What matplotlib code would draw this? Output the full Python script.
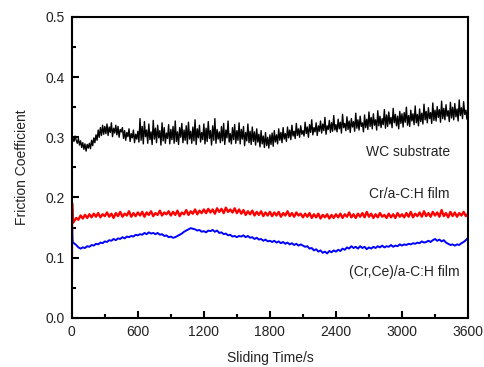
import numpy as np
import matplotlib
matplotlib.use("Agg")
import matplotlib.pyplot as plt
from matplotlib.ticker import MultipleLocator, FormatStrFormatter

plt.rcParams["font.family"] = ["Liberation Sans", "DejaVu Sans"]

# WC substrate: one reading every 10 s
wc_t = np.arange(0, 3601, 10)
wc_mu = [
    0.300,
    0.299, 0.293, 0.302, 0.295, 0.290, 0.298, 0.287, 0.294, 0.283, 0.291, 0.280, 0.289, 0.277, 0.288, 0.282,
    0.290, 0.281, 0.295, 0.286, 0.299, 0.291, 0.304, 0.295, 0.312, 0.300, 0.316, 0.303, 0.320, 0.305, 0.318,
    0.306, 0.322, 0.303, 0.317, 0.308, 0.324, 0.301, 0.315, 0.307, 0.320, 0.304, 0.318, 0.300, 0.313, 0.309,
    0.316, 0.298, 0.311, 0.295, 0.308, 0.301, 0.314, 0.293, 0.306, 0.299, 0.312, 0.291, 0.305, 0.297, 0.310,
    0.292, 0.331, 0.295, 0.318, 0.289, 0.326, 0.301, 0.312, 0.290, 0.322, 0.296, 0.309, 0.288, 0.328, 0.297,
    0.315, 0.291, 0.320, 0.299, 0.311, 0.287, 0.324, 0.294, 0.316, 0.290, 0.307, 0.298, 0.321, 0.289, 0.313,
    0.296, 0.318, 0.290, 0.327, 0.293, 0.309, 0.288, 0.316, 0.300, 0.323, 0.291, 0.312, 0.295, 0.319, 0.289,
    0.325, 0.297, 0.310, 0.290, 0.317, 0.294, 0.329, 0.288, 0.314, 0.299, 0.320, 0.292, 0.308, 0.296, 0.322,
    0.289, 0.315, 0.293, 0.326, 0.298, 0.311, 0.287, 0.319, 0.295, 0.331, 0.290, 0.313, 0.297, 0.309, 0.291,
    0.318, 0.294, 0.323, 0.288, 0.312, 0.299, 0.327, 0.292, 0.306, 0.289, 0.316, 0.296, 0.321, 0.290, 0.311,
    0.295, 0.324, 0.289, 0.313, 0.297, 0.318, 0.286, 0.308, 0.294, 0.322, 0.291, 0.310, 0.288, 0.317, 0.293,
    0.309, 0.287, 0.314, 0.292, 0.305, 0.284, 0.311, 0.289, 0.302, 0.283, 0.308, 0.286, 0.300, 0.282, 0.304,
    0.288, 0.307, 0.285, 0.311, 0.292, 0.304, 0.289, 0.314, 0.295, 0.308, 0.291, 0.316, 0.297, 0.306, 0.293,
    0.317, 0.299, 0.312, 0.296, 0.320, 0.302, 0.310, 0.298, 0.323, 0.303, 0.314, 0.300, 0.319, 0.305, 0.311,
    0.302, 0.325, 0.306, 0.317, 0.300, 0.321, 0.308, 0.329, 0.304, 0.316, 0.309, 0.324, 0.303, 0.319, 0.310,
    0.327, 0.307, 0.322, 0.311, 0.333, 0.305, 0.319, 0.313, 0.328, 0.308, 0.324, 0.310, 0.336, 0.312, 0.321,
    0.309, 0.330, 0.314, 0.325, 0.307, 0.338, 0.316, 0.323, 0.311, 0.334, 0.313, 0.327, 0.308, 0.331, 0.317,
    0.326, 0.310, 0.340, 0.315, 0.329, 0.312, 0.335, 0.318, 0.324, 0.309, 0.337, 0.316, 0.330, 0.313, 0.342,
    0.318, 0.333, 0.314, 0.339, 0.320, 0.329, 0.312, 0.344, 0.319, 0.335, 0.316, 0.331, 0.321, 0.346, 0.315,
    0.337, 0.318, 0.342, 0.322, 0.333, 0.316, 0.348, 0.324, 0.338, 0.319, 0.335, 0.314, 0.343, 0.323, 0.339,
    0.317, 0.341, 0.325, 0.350, 0.320, 0.336, 0.318, 0.345, 0.327, 0.339, 0.321, 0.352, 0.324, 0.338, 0.319,
    0.347, 0.326, 0.340, 0.322, 0.355, 0.329, 0.343, 0.324, 0.349, 0.331, 0.341, 0.323, 0.357, 0.328, 0.345,
    0.327, 0.351, 0.333, 0.346, 0.325, 0.360, 0.331, 0.348, 0.329, 0.354, 0.335, 0.344, 0.326, 0.358, 0.332,
    0.350, 0.329, 0.356, 0.334, 0.347, 0.327, 0.362, 0.336, 0.349, 0.331, 0.359, 0.338, 0.345, 0.330, 0.353,
]

# films: short run-in part, then one reading every 20 s
film_t = np.concatenate([[0, 3, 6, 10], np.arange(20, 3601, 20)])

cr_mu = [
    0.030, 0.190, 0.175, 0.158,
    0.160, 0.166, 0.163, 0.170, 0.165, 0.171, 0.166, 0.172, 0.167, 0.173, 0.168, 0.174, 0.167, 0.172, 0.169,
    0.175, 0.168, 0.173, 0.166, 0.174, 0.169, 0.176, 0.168, 0.173, 0.170, 0.177, 0.168, 0.174, 0.169, 0.175,
    0.170, 0.176, 0.168, 0.175, 0.171, 0.177, 0.169, 0.174, 0.171, 0.178, 0.170, 0.175, 0.172, 0.177, 0.170,
    0.176, 0.171, 0.178, 0.169, 0.175, 0.172, 0.179, 0.171, 0.177, 0.173, 0.180, 0.172, 0.178, 0.174, 0.180,
    0.174, 0.181, 0.175, 0.180, 0.173, 0.182, 0.176, 0.181, 0.174, 0.183, 0.176, 0.180, 0.175, 0.182, 0.174,
    0.180, 0.173, 0.179, 0.171, 0.177, 0.172, 0.178, 0.170, 0.176, 0.171, 0.177, 0.169, 0.175, 0.170, 0.176,
    0.169, 0.175, 0.170, 0.176, 0.168, 0.174, 0.170, 0.177, 0.169, 0.174, 0.168, 0.175, 0.170, 0.173, 0.167,
    0.173, 0.168, 0.174, 0.166, 0.172, 0.167, 0.173, 0.165, 0.171, 0.167, 0.172, 0.165, 0.171, 0.166, 0.172,
    0.167, 0.173, 0.166, 0.172, 0.168, 0.175, 0.167, 0.172, 0.166, 0.173, 0.168, 0.174, 0.167, 0.176, 0.168,
    0.173, 0.166, 0.172, 0.167, 0.174, 0.168, 0.171, 0.166, 0.173, 0.167, 0.172, 0.166, 0.174, 0.168, 0.172,
    0.167, 0.174, 0.168, 0.176, 0.167, 0.173, 0.169, 0.175, 0.168, 0.177, 0.169, 0.174, 0.168, 0.176, 0.170,
    0.175, 0.168, 0.179, 0.169, 0.174, 0.167, 0.176, 0.169, 0.175, 0.168, 0.174, 0.170, 0.176, 0.169, 0.173,
]

crce_mu = [
    0.070, 0.150, 0.130, 0.125,
    0.124, 0.121, 0.117, 0.115, 0.117, 0.116, 0.119, 0.118, 0.121, 0.120, 0.123, 0.122, 0.125, 0.124, 0.127,
    0.126, 0.129, 0.128, 0.131, 0.129, 0.132, 0.131, 0.134, 0.132, 0.135, 0.134, 0.136, 0.135, 0.138, 0.137,
    0.139, 0.138, 0.141, 0.139, 0.142, 0.140, 0.141, 0.139, 0.141, 0.138, 0.139, 0.136, 0.137, 0.134, 0.135,
    0.133, 0.134, 0.136, 0.138, 0.140, 0.143, 0.145, 0.147, 0.149, 0.148, 0.147, 0.145, 0.146, 0.143, 0.144,
    0.142, 0.145, 0.144, 0.146, 0.143, 0.145, 0.141, 0.142, 0.139, 0.140, 0.137, 0.138, 0.135, 0.136, 0.134,
    0.136, 0.135, 0.137, 0.134, 0.136, 0.133, 0.134, 0.131, 0.133, 0.130, 0.131, 0.128, 0.130, 0.127, 0.128,
    0.126, 0.128, 0.125, 0.127, 0.124, 0.126, 0.123, 0.125, 0.122, 0.124, 0.121, 0.123, 0.120, 0.122, 0.120,
    0.118, 0.119, 0.115, 0.116, 0.112, 0.114, 0.110, 0.112, 0.108, 0.110, 0.107, 0.111, 0.109, 0.112, 0.110,
    0.113, 0.111, 0.115, 0.113, 0.117, 0.115, 0.119, 0.116, 0.118, 0.115, 0.119, 0.116, 0.118, 0.114, 0.117,
    0.115, 0.118, 0.116, 0.119, 0.117, 0.120, 0.117, 0.119, 0.118, 0.121, 0.118, 0.120, 0.119, 0.122, 0.120,
    0.122, 0.121, 0.123, 0.122, 0.124, 0.123, 0.125, 0.124, 0.127, 0.125, 0.126, 0.128, 0.126, 0.129, 0.131,
    0.128, 0.130, 0.127, 0.129, 0.125, 0.123, 0.121, 0.122, 0.120, 0.122, 0.121, 0.124, 0.126, 0.129, 0.133,
]

labels = ["WC substrate", "Cr/a-C:H film", "(Cr,Ce)/a-C:H film"]
colors = ["black", "#ff0000", "#0000ff"]
label_pos = [(3435, 0.276), (3435, 0.206), (3520, 0.076)]

fig = plt.figure(figsize=(4.85, 3.67), dpi=100)
ax = fig.add_axes([0.148, 0.134, 0.817, 0.820])

ax.plot(wc_t, wc_mu, color=colors[0], lw=1.0)
ax.plot(film_t, cr_mu, color=colors[1], lw=1.7)
ax.plot(film_t, crce_mu, color=colors[2], lw=1.4)

for lab, (x, y) in zip(labels, label_pos):
    ax.text(x, y, lab, ha="right", va="center", fontsize=10, color="#222222")

ax.set_xlim(0, 3600)
ax.set_ylim(0, 0.5)
ax.xaxis.set_major_locator(MultipleLocator(600))
ax.xaxis.set_minor_locator(MultipleLocator(300))
ax.yaxis.set_major_locator(MultipleLocator(0.1))
ax.yaxis.set_minor_locator(MultipleLocator(0.05))
ax.yaxis.set_major_formatter(FormatStrFormatter("%.1f"))

ax.tick_params(which="both", direction="in", top=False, right=False,
               labelsize=10, width=1.5, labelcolor="#222222")
ax.tick_params(which="major", length=5, pad=5)
ax.tick_params(which="minor", length=3)
for s in ax.spines.values():
    s.set_linewidth(1.5)

ax.set_xlabel("Sliding Time/s", fontsize=10, color="#222222", labelpad=9)
ax.set_ylabel("Friction Coefficient", fontsize=10, color="#222222", labelpad=12)

fig.savefig("out.png", dpi=100)
